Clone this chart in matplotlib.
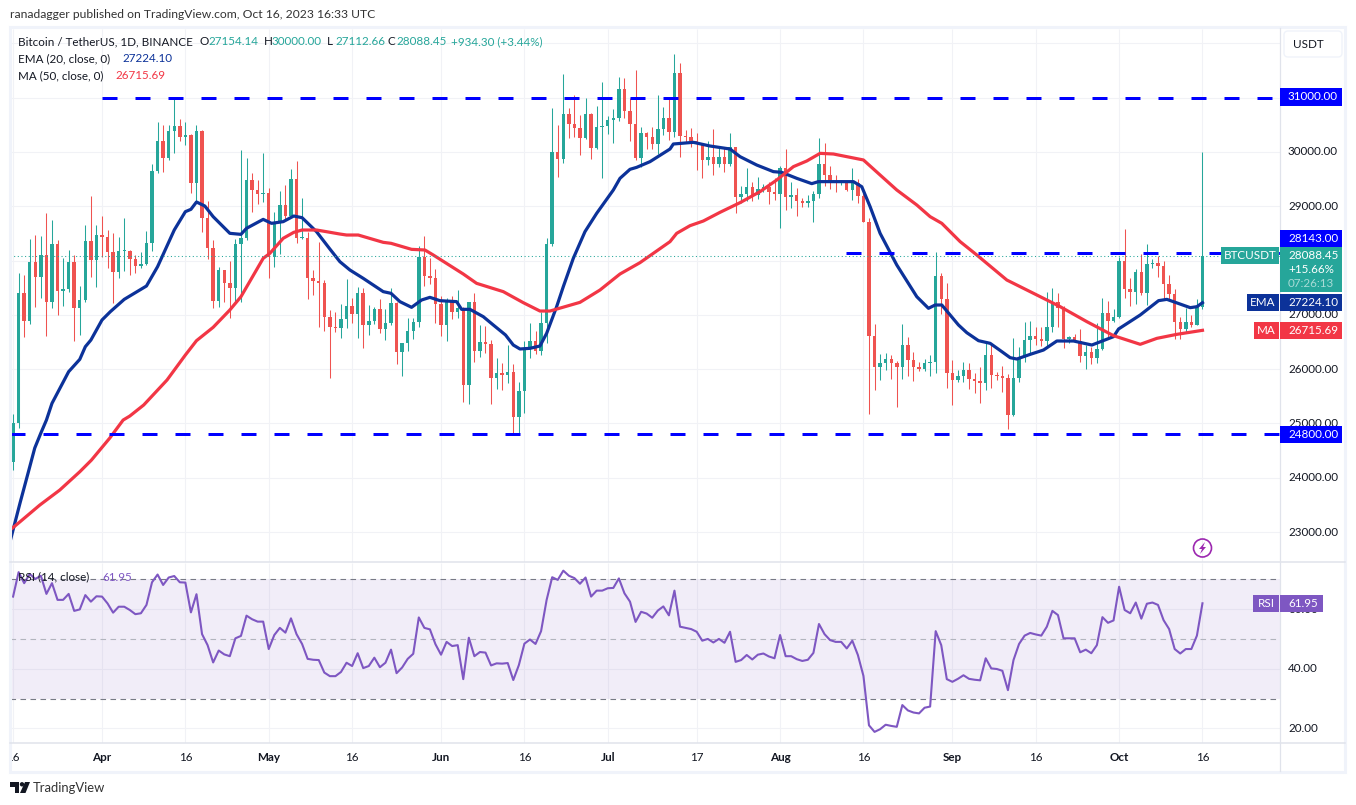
import matplotlib
matplotlib.use("Agg")
import matplotlib.pyplot as plt
from matplotlib.patches import Rectangle, FancyBboxPatch, Circle, Polygon

plt.rcParams['font.family'] = ['Lato', 'DejaVu Sans']

W, H = 1356, 805

# days are counted from Mar 16 2023 = 0, one candle per day
tick_days = [0, 16, 31, 46, 61, 77, 92, 107, 123, 138, 153, 169, 184, 199, 214]
tick_labels = ['16', 'Apr', '16', 'May', '16', 'Jun', '16', 'Jul', '17', 'Aug', '16', 'Sep', '16', 'Oct', '16']
month_labels = ['Apr', 'May', 'Jun', 'Jul', 'Aug', 'Sep', 'Oct']

first_open = 24297
closes = [25003, 27397, 26893, 27980, 27704, 28103, 27243, 28305, 27446, 27476,
          27980, 27120, 27274, 28360, 28011, 28471, 28440, 28164, 27796, 28176,
          28176, 28029, 27906, 27937, 28318, 29650, 30202, 29883, 30386, 30478,
          30282, 30313, 29423, 30386, 28790, 28238, 27262, 27826, 27593, 27501,
          28305, 28422, 29484, 29300, 29226, 29245, 28060, 28717, 29024, 28821,
          29502, 28410, 28422, 27673, 27630, 27593, 26967, 26783, 26765, 26924,
          27164, 27016, 27403, 26814, 26888, 27102, 26740, 26844, 27219, 26322,
          26476, 26703, 26869, 28060, 27716, 27685, 27200, 26814, 27244, 27047,
          27121, 25709, 27231, 26335, 26495, 26464, 25838, 25924, 25893, 25948,
          25125, 25598, 26384, 26519, 26335, 26844, 28305, 29994, 29871, 30700,
          30516, 30442, 30258, 30694, 30080, 30454, 30479, 30589, 30620, 31154,
          30761, 30510, 29883, 30344, 30282, 30147, 30417, 30620, 30375, 31449,
          30301, 30282, 30209, 30141, 29853, 29908, 29779, 29908, 29779, 30086,
          29177, 29226, 29355, 29208, 29312, 29361, 29270, 29232, 29705, 29177,
          29208, 29103, 29067, 29098, 29226, 29779, 29576, 29435, 29423, 29454,
          29300, 29423, 29196, 28717, 26617, 26046, 26108, 26188, 26120, 26046,
          26445, 26169, 26046, 25997, 26114, 26132, 27716, 27293, 25936, 25801,
          25875, 25985, 25819, 25788, 25752, 26261, 25893, 25881, 25844, 25156,
          25837, 26200, 26537, 26611, 26556, 26513, 26783, 27231, 27121, 26550,
          26587, 26525, 26243, 26310, 26206, 26372, 27041, 26887, 26955, 27992,
          27477, 27421, 27784, 27397, 27931, 27956, 27900, 27569, 27385, 26875,
          26740, 26869, 26820, 27151, 28088.45]
highs = [25175, 27765, 27734, 28398, 28471, 28453, 28870, 28747, 28379, 28041,
         28195, 28103, 27532, 28655, 29189, 28655, 28821, 28563, 28502, 28441,
         28778, 28195, 28103, 28152, 28545, 29779, 30546, 30497, 30497, 31000,
         30601, 30546, 30325, 30497, 30405, 29097, 28379, 27888, 27826, 27998,
         28398, 30036, 29883, 29607, 29484, 29975, 29330, 28901, 29281, 29392,
         29687, 29834, 29146, 28532, 27826, 28336, 27642, 27090, 27059, 27200,
         27661, 27305, 27508, 27489, 27182, 27151, 27293, 27102, 27489, 27231,
         26476, 26936, 26936, 28269, 28453, 28042, 27845, 27348, 27305, 27348,
         27458, 27139, 27231, 27397, 26814, 26795, 26537, 26212, 26120, 26445,
         26096, 25770, 26519, 26844, 26703, 27059, 28410, 30816, 30497, 31436,
         30804, 31050, 30681, 30988, 30724, 30847, 31283, 30669, 30792, 31375,
         31357, 31000, 31510, 30467, 30375, 30454, 31050, 30835, 30988, 31805,
         31633, 30405, 30436, 30344, 30172, 30203, 30424, 30080, 30067, 30344,
         30098, 29380, 29705, 29454, 29546, 29411, 29454, 29527, 29742, 30055,
         29447, 29331, 29147, 29208, 29282, 30258, 30160, 29742, 29576, 29485,
         29472, 29699, 29497, 29300, 28778, 26832, 26280, 26298, 26261, 26157,
         26832, 26593, 26310, 26126, 26188, 26261, 28164, 27765, 27581, 26169,
         25985, 26126, 26108, 25924, 26034, 26476, 26476, 25942, 26065, 25905,
         26568, 26402, 26875, 26887, 26783, 26783, 27421, 27501, 27409, 27164,
         26617, 26648, 26740, 26445, 26415, 26844, 27311, 27256, 27102, 28072,
         28582, 27673, 27839, 28121, 28305, 28023, 28091, 27992, 27735, 27471,
         26955, 27133, 26998, 27293, 30000]
lows = [24143, 24910, 26599, 26832, 27139, 27317, 26617, 27120, 26998, 27169,
        27427, 26525, 26629, 27243, 27704, 27519, 28072, 27869, 27213, 27673,
        27814, 27734, 27765, 27869, 27918, 28182, 29607, 29637, 29852, 29975,
        30208, 30129, 29251, 29085, 28532, 28023, 27120, 27151, 27243, 26949,
        27243, 27243, 28379, 28901, 29042, 29085, 27685, 27888, 28121, 28747,
        28809, 28318, 28403, 27286, 27366, 26783, 26709, 25831, 26691, 26580,
        26752, 26857, 26568, 26384, 26630, 26826, 26672, 26537, 26814, 26096,
        25881, 26335, 26550, 26783, 27532, 27569, 26844, 26611, 26525, 26924,
        26949, 25402, 25359, 26139, 26231, 26292, 25359, 25635, 25617, 25739,
        24818, 24818, 25187, 26200, 26274, 26261, 26476, 28269, 29546, 29804,
        30264, 30270, 29945, 30239, 29871, 30055, 29515, 30331, 30172, 30571,
        30632, 30209, 29853, 29717, 30055, 30061, 29963, 30313, 30221, 30270,
        29914, 30160, 30086, 29669, 29527, 29760, 29576, 29730, 29638, 29742,
        28883, 29067, 29098, 29098, 29134, 29270, 29042, 29116, 28606, 28932,
        28975, 28821, 28981, 28993, 28711, 29153, 29374, 29319, 29263, 29399,
        29282, 29116, 29067, 28717, 25175, 25617, 25801, 25985, 25819, 25310,
        25819, 25875, 25782, 25973, 25973, 25875, 25936, 27016, 25660, 25340,
        25770, 25770, 25635, 25567, 25383, 25617, 25660, 25801, 25586, 24898,
        25144, 25770, 26138, 26292, 26445, 26427, 26415, 26685, 26783, 26396,
        26476, 26507, 26138, 26009, 26095, 26120, 26353, 26599, 26875, 26936,
        27305, 27170, 27194, 27366, 27182, 27857, 27704, 27274, 27274, 26550,
        26562, 26679, 26783, 26814, 27112.66]

ema_days = [-0.55, 1.25, 2.7, 3.9, 5, 6, 7, 10, 12, 13, 14, 16, 17.5, 20, 24, 26, 29, 31, 32, 33, 34.5, 36, 39,
            41, 42, 45, 46.5, 48.6, 50.5, 52, 54.6, 57, 58.8, 60.6, 63, 66.6, 68, 69.6, 71.7, 73.5, 75, 76.8,
            79.8, 80.7, 82.2, 84.6, 86.4, 88.6, 90, 91.2, 93, 94.8, 96, 97.8, 99, 100.8, 102.9, 105, 108, 109.2,
            111, 112.2, 114.6, 118.2, 118.8, 122.4, 125.4, 129, 130.8, 133.8, 136.8, 138.3, 141, 143.7, 144.9,
            151.2, 152.7, 154.2, 156, 159, 162.6, 164.7, 165.9, 167.1, 170.1, 171.6, 173.7, 175.8, 177.9, 179.4,
            180.6, 183, 185.4, 187.8, 190.8, 194.1, 198, 198.9, 202.8, 206.1, 207.6, 211.8, 213, 214]
ema_vals = [22822, 23535, 24087, 24548, 24824, 25063, 25371, 25954, 26181, 26414, 26537, 26906, 27059, 27286, 27532,
            27888, 28563, 28901, 28944, 29079, 29005, 28809, 28502, 28483, 28594, 28759, 28686, 28717, 28821, 28790,
            28532, 28213, 27980, 27827, 27673, 27428, 27397, 27244, 27139, 27274, 27323, 27262, 27244, 27102, 27102,
            26967, 26814, 26630, 26445, 26372, 26384, 26427, 26660, 27151, 27520, 28042, 28533, 28870, 29300, 29515,
            29681, 29717, 29822, 30055, 30147, 30178, 30110, 30055, 29914, 29760, 29638, 29625, 29515, 29417, 29454,
            29454, 29361, 28993, 28502, 27919, 27335, 27121, 27182, 27182, 26814, 26672, 26525, 26476, 26323, 26212,
            26187, 26273, 26353, 26519, 26519, 26445, 26599, 26740, 26998, 27262, 27286, 27133, 27151, 27224.10]

ma_days = [-0.55, 1.25, 4.8, 8.4, 12, 14.1, 17.4, 19.8, 21, 23.5, 27.7, 31, 33, 36, 39, 41, 45, 46.2, 48.6, 50.5, 52,
           54.6, 56.4, 58.8, 60, 62.1, 66.6, 68, 71.7, 74.1, 75.6, 81, 83.4, 88.2, 91.8, 94.8, 96.6, 102, 105.6,
           109.2, 112.8, 118.2, 119.4, 121.8, 124.2, 127.2, 130.8, 134.4, 137.4, 140.4, 142.8, 145.2, 147.6, 153,
           156, 159, 162.6, 165, 167.1, 170.4, 173.4, 178.8, 183.6, 188.4, 193.2, 198, 202.8, 205.8, 209.4, 214]
ma_vals = [23037, 23190, 23497, 23774, 24111, 24326, 24732, 25063, 25137, 25340, 25801, 26261, 26525, 26771, 27090,
           27335, 28041, 28133, 28410, 28520, 28563, 28563, 28532, 28489, 28471, 28471, 28336, 28318, 28207, 28195,
           28103, 27753, 27581, 27428, 27225, 27071, 27071, 27231, 27458, 27753, 27962, 28349, 28502, 28643, 28729,
           28889, 29067, 29270, 29484, 29730, 29834, 29975, 29963, 29853, 29576, 29300, 29024, 28809, 28686, 28349,
           28103, 27642, 27397, 27151, 26875, 26617, 26458, 26568, 26642, 26715.69]

rsi_vals = [64.2, 72.4, 68.7, 71.8, 70.1, 71.2, 65.1, 68.7, 63.1, 63.1, 65.1, 59.4, 59.9, 64.7, 62.5, 64.3, 64.2, 61.9,
            58.8, 60.8, 60.8, 59.7, 58.3, 58.6, 61.4, 69.0, 71.6, 68.1, 70.6, 71.1, 69.0, 68.9, 58.9, 65.0, 51.6, 47.9,
            42.1, 46.1, 44.8, 44.2, 50.2, 51.0, 57.8, 56.6, 55.8, 55.8, 46.6, 51.3, 53.7, 52.1, 56.9, 51.6, 48.3, 43.3,
            43.0, 42.9, 38.7, 37.5, 37.5, 38.9, 42.0, 40.9, 45.2, 40.2, 40.9, 43.7, 40.5, 42.0, 46.4, 38.5, 40.4, 43.3,
            45.0, 57.2, 53.7, 53.2, 48.2, 44.7, 49.0, 47.6, 47.9, 36.5, 50.4, 44.2, 45.6, 45.4, 41.1, 41.8, 41.7, 41.9,
            36.2, 41.2, 48.4, 49.8, 48.3, 52.6, 63.1, 70.7, 69.8, 72.9, 71.2, 70.4, 68.5, 70.6, 64.2, 66.2, 66.2, 67.0,
            67.1, 70.3, 65.3, 62.5, 55.7, 59.1, 58.5, 57.1, 59.5, 60.9, 57.9, 66.2, 54.1, 53.7, 53.3, 52.4, 49.4, 50.0,
            48.8, 50.0, 48.7, 52.4, 42.3, 42.9, 44.6, 43.1, 44.7, 45.1, 44.1, 43.5, 51.3, 44.2, 44.2, 43.2, 42.6, 43.0,
            45.3, 55.0, 51.6, 49.6, 49.0, 49.0, 46.8, 49.4, 44.6, 37.6, 21.0, 18.8, 19.7, 21.2, 20.8, 20.5, 27.8, 26.0,
            25.3, 25.0, 26.9, 27.3, 52.6, 47.9, 36.5, 35.6, 36.6, 37.8, 36.6, 36.3, 36.1, 43.5, 40.1, 39.9, 39.3, 32.8,
            42.9, 48.3, 51.1, 52.0, 51.5, 51.1, 54.1, 59.4, 58.0, 50.2, 50.2, 50.2, 45.5, 46.4, 45.2, 47.9, 57.3, 55.4,
            56.2, 67.5, 59.7, 58.6, 62.2, 56.8, 61.8, 62.2, 61.4, 56.3, 53.3, 46.6, 45.1, 46.6, 46.6, 51.1, 61.95]

# 28000 is left out of the printed numbers: its tag covers it whole
price_grid = [23000, 24000, 25000, 26000, 27000, 28000, 29000, 30000, 31000, 32000]
price_ticks = [23000, 24000, 25000, 26000, 27000, 29000, 30000]
rsi_ticks = [20, 40, 60]

# horizontal levels drawn by the author: (price, first day)
levels = [(31000, 16), (28143, 149.86), (24800, -0.55)]

GREEN = '#26a69a'
RED = '#ef5350'
NAVY = '#0c3299'
MA_RED = '#f23645'
BLUE = '#0000ff'
PURPLE = '#7e57c2'
GRID = '#f1f2f6'
LINE = '#e0e3eb'
TEXT = '#131722'
XLIM = (-0.553, 227.95)
FS = 8.4


def px_axes(fig, x0, y0, x1, y1):
    ax = fig.add_axes([x0 / W, 1 - y1 / H, (x1 - x0) / W, (y1 - y0) / H])
    ax.patch.set_alpha(0)
    ax.set_xticks([])
    ax.set_yticks([])
    for s in ax.spines.values():
        s.set_visible(False)
    return ax


fig = plt.figure(figsize=(W / 100, H / 100), dpi=100, facecolor='white')

ax = px_axes(fig, 10, 29, 1280, 562)
ax_rsi = px_axes(fig, 10, 563, 1280, 743)
ax_time = px_axes(fig, 9, 744, 1280, 771)
ov = px_axes(fig, 0, 0, W, H)
ov.set_xlim(0, W)
ov.set_ylim(H, 0)
ov.set_zorder(10)

# main pane
ax.set_xlim(*XLIM)
ax.set_ylim(22449, 32265)
ax.vlines(tick_days, 22449, 32265, color=GRID, lw=0.8, zorder=1)
ax.hlines(price_grid, XLIM[0], XLIM[1], color=GRID, lw=0.8, zorder=1)

days = list(range(len(closes)))
opens = [first_open] + closes[:-1]
colors = [GREEN if c >= o else RED for o, c in zip(opens, closes)]
ax.vlines(days, lows, highs, colors=colors, lw=0.75, zorder=3)
bottoms = [min(o, c) for o, c in zip(opens, closes)]
heights = [max(abs(c - o), 20) for o, c in zip(opens, closes)]
ax.bar(days, heights, bottom=bottoms, width=0.62, color=colors, linewidth=0, zorder=3)

ax.plot(ema_days, ema_vals, color=NAVY, lw=2.3, zorder=4, solid_joinstyle='round')
ax.plot(ma_days, ma_vals, color=MA_RED, lw=2.3, zorder=4, solid_joinstyle='round')
ax.hlines(closes[-1], XLIM[0], XLIM[1], color=GREEN, lw=0.75, linestyles=(0, (1, 2.5)), zorder=5)
for level, start in levels:
    ax.plot([start, XLIM[1]], [level, level], color=BLUE, lw=2.16, linestyle=(0, (5, 6)),
            dash_capstyle='butt', zorder=5)

# rsi pane
ax_rsi.set_xlim(*XLIM)
ax_rsi.set_ylim(15.07, 75.47)
ax_rsi.vlines(tick_days, 15.07, 75.47, color=GRID, lw=0.8, zorder=1)
ax_rsi.hlines(rsi_ticks, XLIM[0], XLIM[1], color=GRID, lw=0.8, zorder=1)
ax_rsi.axhspan(30, 70, color=PURPLE, alpha=0.1, lw=0, zorder=2)
ax_rsi.hlines([70, 30], XLIM[0], XLIM[1], color='#787b86', lw=0.8, linestyles=(0, (5, 4)), zorder=3)
ax_rsi.hlines(50, XLIM[0], XLIM[1], color='#b2b5be', lw=0.8, linestyles=(0, (5, 4)), zorder=3)
ax_rsi.plot(days, rsi_vals, color=PURPLE, lw=1.5, zorder=4)

# time axis, one pixel wider on the left so the first label is cut like in the chart
ax_time.set_xlim(XLIM[0] - 1 / 5.558, XLIM[1])
ax_time.set_ylim(0, 1)
for d, lab in zip(tick_days, tick_labels):
    ax_time.text(d, 0.5, lab, ha='center', va='center', fontsize=FS, color=TEXT, clip_on=True,
                 fontweight='bold' if lab in month_labels else 'normal')

# chrome
ov.add_patch(Rectangle((10, 27.5), 1335, 744.5, fill=False, edgecolor='#f0f3fa', lw=2.2))
ov.plot([1280, 1280], [28, 771], color=LINE, lw=0.9)
ov.plot([10, 1345], [562, 562], color=LINE, lw=1.1)
ov.plot([10, 1345], [743, 743], color=LINE, lw=1.1)
ov.add_patch(FancyBboxPatch((1286, 33), 54, 22, boxstyle='round,pad=2,rounding_size=4',
                            facecolor='white', edgecolor='#f0f3fa', lw=1))
ov.text(1293, 44, 'USDT', va='center', fontsize=FS, color=TEXT)

# axis numbers, the tags below cover some of them
for p in price_ticks:
    y = ov.transData.inverted().transform(ax.transData.transform((0, p)))[1]
    ov.text(1288, y, '%.2f' % p, va='center', fontsize=FS, color=TEXT, zorder=2)
for r in rsi_ticks:
    y = ov.transData.inverted().transform(ax_rsi.transData.transform((0, r)))[1]
    ov.text(1288, y, '%.2f' % r, va='center', fontsize=FS, color=TEXT, zorder=2)


def tag(x0, x1, y0, y1, color, text, tx=None):
    ov.add_patch(Rectangle((x0, y0), x1 - x0, y1 - y0, facecolor=color, edgecolor='none', zorder=4))
    ov.text((x0 + x1) / 2 if tx is None else tx, (y0 + y1) / 2, text, ha='center' if tx is None else 'left',
            va='center', fontsize=FS, color='white', zorder=5)


tag(1280, 1342, 88, 106, BLUE, '31000.00', 1288)
tag(1280, 1342, 230, 247, BLUE, '28143.00', 1288)
tag(1280, 1342, 426, 443, BLUE, '24800.00', 1288)
tag(1221, 1279, 247, 264, GREEN, 'BTCUSDT')
ov.add_patch(Rectangle((1280, 247), 62, 45, facecolor=GREEN, edgecolor='none', zorder=4))
ov.text(1288, 255.5, '28088.45', va='center', fontsize=FS, color='white', zorder=5)
ov.text(1288, 269.5, '+15.66%', va='center', fontsize=FS, color='white', zorder=5)
ov.text(1288, 283.5, '07:26:13', va='center', fontsize=FS, color='#a8dbd6', zorder=5)
tag(1247, 1279, 294, 311, NAVY, 'EMA')
tag(1280, 1342, 294, 311, NAVY, '27224.10', 1288)
tag(1254, 1279, 322, 339, MA_RED, 'MA')
tag(1280, 1342, 322, 339, MA_RED, '26715.69', 1288)
tag(1253, 1279, 595, 612, PURPLE, 'RSI')
tag(1280, 1323, 595, 612, PURPLE, '61.95', 1288)

# texts on top of the panes
ov.text(10, 15, 'ranadagger published on TradingView.com, Oct 16, 2023 16:33 UTC', va='center', fontsize=8.7, color='#333333')
ov.text(18, 41.5, 'Bitcoin / TetherUS, 1D, BINANCE', va='center', fontsize=FS, color=TEXT)
for x, lab, val in [(200, 'O', '27154.14'), (264, 'H', '30000.00'), (327, 'L', '27112.66'), (388, 'C', '28088.45')]:
    ov.text(x, 41.5, lab, va='center', fontsize=FS, color=TEXT)
    ov.text(x + 8, 41.5, val, va='center', fontsize=FS, color=GREEN)
ov.text(451, 41.5, '+934.30 (+3.44%)', va='center', fontsize=FS, color=GREEN)
ov.text(18, 58.5, 'EMA (20, close, 0)', va='center', fontsize=FS, color=TEXT)
ov.text(122, 58.5, '27224.10', va='center', fontsize=FS, color=NAVY)
ov.text(18, 75.5, 'MA (50, close, 0)', va='center', fontsize=FS, color=TEXT)
ov.text(115, 75.5, '26715.69', va='center', fontsize=FS, color=MA_RED)
ov.text(18, 577, 'RSI (14, close)', va='center', fontsize=FS, color=TEXT)
ov.text(102, 577, '61.95', va='center', fontsize=FS, color=PURPLE)

# bolt icon
ov.add_patch(Circle((1202.5, 548), 9, fill=False, edgecolor='#9c27b0', lw=1.2))
ov.add_patch(Polygon([(1205, 542), (1199, 549), (1202, 549), (1200, 554), (1206, 547), (1203, 547)],
                     closed=True, facecolor='#9c27b0', edgecolor='none'))

# TradingView logo
ov.add_patch(Polygon([(9.5, 782), (19, 782), (19, 793), (14.5, 793), (14.5, 786.5), (9.5, 786.5)],
                     closed=True, facecolor=TEXT, edgecolor='none'))
ov.add_patch(Circle((22, 784.3), 2.2, facecolor=TEXT, edgecolor='none'))
ov.add_patch(Polygon([(25, 782), (30, 782), (25.5, 793), (20, 793)], closed=True, facecolor=TEXT, edgecolor='none'))
ov.text(33, 787.5, 'TradingView', va='center', fontsize=9.4, color='#333333')

fig.savefig('out.png', dpi=100)
